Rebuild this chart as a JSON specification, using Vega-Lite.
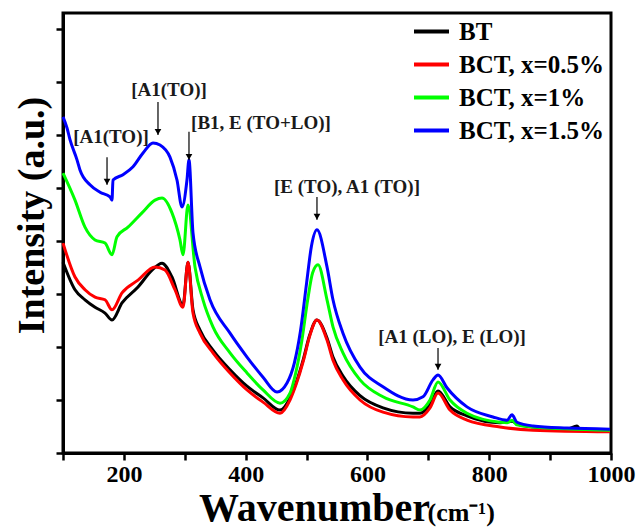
{
  "$schema": "https://vega.github.io/schema/vega-lite/v6.json",
  "width": 548,
  "height": 440,
  "autosize": "none",
  "padding": {"left": 63, "top": 13, "right": 27, "bottom": 78},
  "background": "white",
  "config": {
    "view": {"stroke": "black", "strokeWidth": 3},
    "font": "Liberation Serif"
  },
  "datasets": {
    "spectra": [
      {"series": "BT", "x": 100, "y": 3.6},
      {"series": "BT", "x": 119.7, "y": 3.08},
      {"series": "BT", "x": 136.1, "y": 2.89},
      {"series": "BT", "x": 152.6, "y": 2.75},
      {"series": "BT", "x": 169.0, "y": 2.64},
      {"series": "BT", "x": 180.5, "y": 2.51},
      {"series": "BT", "x": 196.9, "y": 2.83},
      {"series": "BT", "x": 223.2, "y": 3.13},
      {"series": "BT", "x": 246.2, "y": 3.45},
      {"series": "BT", "x": 262.6, "y": 3.58},
      {"series": "BT", "x": 279.0, "y": 3.32},
      {"series": "BT", "x": 297.1, "y": 2.79},
      {"series": "BT", "x": 305.3, "y": 3.6},
      {"series": "BT", "x": 313.5, "y": 2.7},
      {"series": "BT", "x": 325.0, "y": 2.32},
      {"series": "BT", "x": 346.3, "y": 1.94},
      {"series": "BT", "x": 374.3, "y": 1.57},
      {"series": "BT", "x": 402.2, "y": 1.26},
      {"series": "BT", "x": 428.5, "y": 1.04},
      {"series": "BT", "x": 456.4, "y": 0.81},
      {"series": "BT", "x": 472.8, "y": 1.04},
      {"series": "BT", "x": 483, "y": 1.33},
      {"series": "BT", "x": 495, "y": 1.78},
      {"series": "BT", "x": 505, "y": 2.22},
      {"series": "BT", "x": 517, "y": 2.51},
      {"series": "BT", "x": 533.6, "y": 2.17},
      {"series": "BT", "x": 543.4, "y": 1.81},
      {"series": "BT", "x": 559.8, "y": 1.45},
      {"series": "BT", "x": 587.8, "y": 1.08},
      {"series": "BT", "x": 625.5, "y": 0.85},
      {"series": "BT", "x": 674.8, "y": 0.75},
      {"series": "BT", "x": 686.3, "y": 0.75},
      {"series": "BT", "x": 702.7, "y": 0.91},
      {"series": "BT", "x": 715.9, "y": 1.17},
      {"series": "BT", "x": 735.6, "y": 0.87},
      {"series": "BT", "x": 763.5, "y": 0.7},
      {"series": "BT", "x": 817.7, "y": 0.57},
      {"series": "BT", "x": 837.4, "y": 0.6},
      {"series": "BT", "x": 845.6, "y": 0.55},
      {"series": "BT", "x": 871.9, "y": 0.49},
      {"series": "BT", "x": 927.7, "y": 0.45},
      {"series": "BT", "x": 944.1, "y": 0.51},
      {"series": "BT", "x": 949, "y": 0.45},
      {"series": "BT", "x": 998.3, "y": 0.43},

      {"series": "BCT, x=0.5%", "x": 100, "y": 3.96},
      {"series": "BCT, x=0.5%", "x": 119.7, "y": 3.32},
      {"series": "BCT, x=0.5%", "x": 136.1, "y": 3.08},
      {"series": "BCT, x=0.5%", "x": 152.6, "y": 2.94},
      {"series": "BCT, x=0.5%", "x": 169.0, "y": 2.89},
      {"series": "BCT, x=0.5%", "x": 180.5, "y": 2.7},
      {"series": "BCT, x=0.5%", "x": 196.9, "y": 3.02},
      {"series": "BCT, x=0.5%", "x": 223.2, "y": 3.26},
      {"series": "BCT, x=0.5%", "x": 251.1, "y": 3.51},
      {"series": "BCT, x=0.5%", "x": 267.5, "y": 3.45},
      {"series": "BCT, x=0.5%", "x": 283.9, "y": 3.08},
      {"series": "BCT, x=0.5%", "x": 297.1, "y": 2.75},
      {"series": "BCT, x=0.5%", "x": 305.3, "y": 3.6},
      {"series": "BCT, x=0.5%", "x": 313.5, "y": 2.64},
      {"series": "BCT, x=0.5%", "x": 325.0, "y": 2.26},
      {"series": "BCT, x=0.5%", "x": 346.3, "y": 1.89},
      {"series": "BCT, x=0.5%", "x": 374.3, "y": 1.51},
      {"series": "BCT, x=0.5%", "x": 402.2, "y": 1.19},
      {"series": "BCT, x=0.5%", "x": 428.5, "y": 0.96},
      {"series": "BCT, x=0.5%", "x": 456.4, "y": 0.75},
      {"series": "BCT, x=0.5%", "x": 472.8, "y": 1.0},
      {"series": "BCT, x=0.5%", "x": 483, "y": 1.3},
      {"series": "BCT, x=0.5%", "x": 495, "y": 1.75},
      {"series": "BCT, x=0.5%", "x": 505, "y": 2.2},
      {"series": "BCT, x=0.5%", "x": 517, "y": 2.51},
      {"series": "BCT, x=0.5%", "x": 533.6, "y": 2.13},
      {"series": "BCT, x=0.5%", "x": 543.4, "y": 1.75},
      {"series": "BCT, x=0.5%", "x": 559.8, "y": 1.38},
      {"series": "BCT, x=0.5%", "x": 587.8, "y": 1.0},
      {"series": "BCT, x=0.5%", "x": 625.5, "y": 0.77},
      {"series": "BCT, x=0.5%", "x": 674.8, "y": 0.68},
      {"series": "BCT, x=0.5%", "x": 686.3, "y": 0.68},
      {"series": "BCT, x=0.5%", "x": 702.7, "y": 0.85},
      {"series": "BCT, x=0.5%", "x": 715.9, "y": 1.13},
      {"series": "BCT, x=0.5%", "x": 735.6, "y": 0.81},
      {"series": "BCT, x=0.5%", "x": 763.5, "y": 0.62},
      {"series": "BCT, x=0.5%", "x": 817.7, "y": 0.49},
      {"series": "BCT, x=0.5%", "x": 871.9, "y": 0.43},
      {"series": "BCT, x=0.5%", "x": 998.3, "y": 0.4},

      {"series": "BCT, x=1%", "x": 100, "y": 5.28},
      {"series": "BCT, x=1%", "x": 119.7, "y": 4.77},
      {"series": "BCT, x=1%", "x": 136.1, "y": 4.26},
      {"series": "BCT, x=1%", "x": 152.6, "y": 4.02},
      {"series": "BCT, x=1%", "x": 169.0, "y": 3.96},
      {"series": "BCT, x=1%", "x": 180.5, "y": 3.74},
      {"series": "BCT, x=1%", "x": 188.7, "y": 4.08},
      {"series": "BCT, x=1%", "x": 206.7, "y": 4.26},
      {"series": "BCT, x=1%", "x": 229.7, "y": 4.53},
      {"series": "BCT, x=1%", "x": 251.1, "y": 4.77},
      {"series": "BCT, x=1%", "x": 262.6, "y": 4.81},
      {"series": "BCT, x=1%", "x": 279.0, "y": 4.53},
      {"series": "BCT, x=1%", "x": 292.1, "y": 4.02},
      {"series": "BCT, x=1%", "x": 297.1, "y": 3.74},
      {"series": "BCT, x=1%", "x": 305.3, "y": 4.68},
      {"series": "BCT, x=1%", "x": 316.8, "y": 3.51},
      {"series": "BCT, x=1%", "x": 329.9, "y": 2.89},
      {"series": "BCT, x=1%", "x": 346.3, "y": 2.38},
      {"series": "BCT, x=1%", "x": 374.3, "y": 1.89},
      {"series": "BCT, x=1%", "x": 402.2, "y": 1.51},
      {"series": "BCT, x=1%", "x": 428.5, "y": 1.19},
      {"series": "BCT, x=1%", "x": 456.4, "y": 0.94},
      {"series": "BCT, x=1%", "x": 472.8, "y": 1.13},
      {"series": "BCT, x=1%", "x": 482, "y": 1.5},
      {"series": "BCT, x=1%", "x": 492, "y": 2.1},
      {"series": "BCT, x=1%", "x": 502, "y": 2.9},
      {"series": "BCT, x=1%", "x": 510, "y": 3.4},
      {"series": "BCT, x=1%", "x": 518.8, "y": 3.55},
      {"series": "BCT, x=1%", "x": 533.6, "y": 2.89},
      {"series": "BCT, x=1%", "x": 543.4, "y": 2.38},
      {"series": "BCT, x=1%", "x": 559.8, "y": 1.89},
      {"series": "BCT, x=1%", "x": 587.8, "y": 1.38},
      {"series": "BCT, x=1%", "x": 625.5, "y": 1.06},
      {"series": "BCT, x=1%", "x": 674.8, "y": 0.87},
      {"series": "BCT, x=1%", "x": 686.3, "y": 0.81},
      {"series": "BCT, x=1%", "x": 702.7, "y": 1.0},
      {"series": "BCT, x=1%", "x": 715.9, "y": 1.34},
      {"series": "BCT, x=1%", "x": 735.6, "y": 1.0},
      {"series": "BCT, x=1%", "x": 763.5, "y": 0.75},
      {"series": "BCT, x=1%", "x": 817.7, "y": 0.58},
      {"series": "BCT, x=1%", "x": 829.2, "y": 0.57},
      {"series": "BCT, x=1%", "x": 837.4, "y": 0.62},
      {"series": "BCT, x=1%", "x": 845.6, "y": 0.53},
      {"series": "BCT, x=1%", "x": 871.9, "y": 0.49},
      {"series": "BCT, x=1%", "x": 998.3, "y": 0.43},

      {"series": "BCT, x=1.5%", "x": 100, "y": 6.34},
      {"series": "BCT, x=1.5%", "x": 106.6, "y": 6.13},
      {"series": "BCT, x=1.5%", "x": 111.5, "y": 5.91},
      {"series": "BCT, x=1.5%", "x": 123.0, "y": 5.53},
      {"series": "BCT, x=1.5%", "x": 127.9, "y": 5.34},
      {"series": "BCT, x=1.5%", "x": 144.3, "y": 5.06},
      {"series": "BCT, x=1.5%", "x": 160.8, "y": 4.92},
      {"series": "BCT, x=1.5%", "x": 177.2, "y": 4.83},
      {"series": "BCT, x=1.5%", "x": 180.5, "y": 4.77},
      {"series": "BCT, x=1.5%", "x": 182.1, "y": 5.15},
      {"series": "BCT, x=1.5%", "x": 198.5, "y": 5.25},
      {"series": "BCT, x=1.5%", "x": 215.0, "y": 5.4},
      {"series": "BCT, x=1.5%", "x": 231.4, "y": 5.66},
      {"series": "BCT, x=1.5%", "x": 247.8, "y": 5.85},
      {"series": "BCT, x=1.5%", "x": 259.3, "y": 5.81},
      {"series": "BCT, x=1.5%", "x": 275.7, "y": 5.58},
      {"series": "BCT, x=1.5%", "x": 287.2, "y": 5.15},
      {"series": "BCT, x=1.5%", "x": 295.4, "y": 4.64},
      {"series": "BCT, x=1.5%", "x": 303.6, "y": 5.15},
      {"series": "BCT, x=1.5%", "x": 306.9, "y": 5.53},
      {"series": "BCT, x=1.5%", "x": 313.5, "y": 4.15},
      {"series": "BCT, x=1.5%", "x": 325.0, "y": 3.51},
      {"series": "BCT, x=1.5%", "x": 341.4, "y": 2.89},
      {"series": "BCT, x=1.5%", "x": 374.3, "y": 2.26},
      {"series": "BCT, x=1.5%", "x": 402.2, "y": 1.81},
      {"series": "BCT, x=1.5%", "x": 428.5, "y": 1.43},
      {"series": "BCT, x=1.5%", "x": 451.5, "y": 1.15},
      {"series": "BCT, x=1.5%", "x": 467.9, "y": 1.32},
      {"series": "BCT, x=1.5%", "x": 480, "y": 1.7},
      {"series": "BCT, x=1.5%", "x": 490, "y": 2.3},
      {"series": "BCT, x=1.5%", "x": 500, "y": 3.2},
      {"series": "BCT, x=1.5%", "x": 508, "y": 3.9},
      {"series": "BCT, x=1.5%", "x": 517.1, "y": 4.21},
      {"series": "BCT, x=1.5%", "x": 533.6, "y": 3.51},
      {"series": "BCT, x=1.5%", "x": 543.4, "y": 2.89},
      {"series": "BCT, x=1.5%", "x": 559.8, "y": 2.26},
      {"series": "BCT, x=1.5%", "x": 587.8, "y": 1.62},
      {"series": "BCT, x=1.5%", "x": 625.5, "y": 1.25},
      {"series": "BCT, x=1.5%", "x": 674.8, "y": 1.0},
      {"series": "BCT, x=1.5%", "x": 691.2, "y": 1.06},
      {"series": "BCT, x=1.5%", "x": 707.6, "y": 1.38},
      {"series": "BCT, x=1.5%", "x": 715.9, "y": 1.47},
      {"series": "BCT, x=1.5%", "x": 730.6, "y": 1.23},
      {"series": "BCT, x=1.5%", "x": 763.5, "y": 0.87},
      {"series": "BCT, x=1.5%", "x": 806.2, "y": 0.68},
      {"series": "BCT, x=1.5%", "x": 829.2, "y": 0.62},
      {"series": "BCT, x=1.5%", "x": 837.4, "y": 0.72},
      {"series": "BCT, x=1.5%", "x": 845.6, "y": 0.58},
      {"series": "BCT, x=1.5%", "x": 871.9, "y": 0.51},
      {"series": "BCT, x=1.5%", "x": 927.7, "y": 0.47},
      {"series": "BCT, x=1.5%", "x": 998.3, "y": 0.45}
    ],
    "labels": [
      {"label": "[A1(TO)]", "x": 178.8, "y": 5.96},
      {"label": "[A1(TO)]", "x": 274.1, "y": 6.85},
      {"label": "[B1, E (TO+LO)]", "x": 425.2, "y": 6.23},
      {"label": "[E (TO), A1 (TO)]", "x": 566.4, "y": 5.02},
      {"label": "[A1 (LO), E (LO)]", "x": 738.9, "y": 2.19}
    ],
    "arrows": [
      {"x": 172.3, "y": 5.58, "y2": 5.06},
      {"x": 256.0, "y": 6.62, "y2": 6.0},
      {"x": 306.9, "y": 6.06, "y2": 5.53},
      {"x": 517.1, "y": 4.83, "y2": 4.4},
      {"x": 715.9, "y": 1.98, "y2": 1.57}
    ]
  },
  "resolve": {"axis": {"x": "independent"}},
  "layer": [
    {
      "data": {"name": "spectra"},
      "mark": {"type": "line", "strokeWidth": 3, "interpolate": "monotone"},
      "encoding": {
        "x": {
          "field": "x", "type": "quantitative",
          "scale": {"domain": [100, 1000], "nice": false, "zero": false},
          "axis": {
            "orient": "bottom",
            "values": [100, 200, 300, 400, 500, 600, 700, 800, 900, 1000],
            "format": "d",
            "labelExpr": "datum.value % 200 == 0 ? datum.label : ''",
            "grid": false,
            "domainColor": "black", "domainWidth": 3,
            "tickColor": "black", "tickWidth": 2.5, "tickSize": 7,
            "labelFont": "Liberation Serif", "labelFontWeight": "bold", "labelFontSize": 24, "labelColor": "black",
            "labelPadding": 2, "labelFlush": false, "labelOverlap": false,
            "title": "Wavenumber",
            "titleFont": "Liberation Serif", "titleFontWeight": "bold", "titleFontSize": 40, "titleColor": "black",
            "titleX": 251, "titleY": 67, "titleBaseline": "alphabetic", "titleAlign": "center"
          }
        },
        "y": {
          "field": "y", "type": "quantitative",
          "scale": {"domain": [0, 8.3], "nice": false},
          "axis": {
            "values": [0, 1, 2, 3, 4, 5, 6, 7, 8],
            "labels": false, "grid": false,
            "domainColor": "black", "domainWidth": 3,
            "tickColor": "black", "tickWidth": 2.5, "tickSize": 7,
            "title": "Intensity (a.u.)",
            "titleFont": "Liberation Serif", "titleFontWeight": "bold", "titleFontSize": 38, "titleColor": "black",
            "titleX": -20, "titleY": 202, "titleBaseline": "alphabetic", "titleAlign": "center", "titleAngle": 270
          }
        },
        "color": {
          "field": "series", "type": "nominal",
          "scale": {
            "domain": ["BT", "BCT, x=0.5%", "BCT, x=1%", "BCT, x=1.5%"],
            "range": ["#000000", "#ff0000", "#00ff00", "#0000ff"]
          },
          "legend": {
            "title": null,
            "orient": "none", "legendX": 349, "legendY": -1,
            "symbolType": "stroke", "symbolSize": 1225, "symbolStrokeWidth": 4,
            "labelFont": "Liberation Serif", "labelFontWeight": "bold", "labelFontSize": 25, "labelColor": "black",
            "labelOffset": 8, "rowPadding": 0, "padding": 0, "labelLimit": 300
          }
        }
      }
    },
    {
      "data": {"name": "arrows"},
      "mark": {"type": "rule", "color": "black", "strokeWidth": 1.2},
      "encoding": {
        "x": {
          "field": "x", "type": "quantitative",
          "axis": {
            "orient": "bottom", "labels": false, "ticks": false, "domain": false, "grid": false,
            "title": "(cm⁻¹)",
            "titleFont": "Liberation Serif", "titleFontWeight": "bold", "titleFontSize": 26, "titleColor": "black",
            "titleX": 364, "titleY": 67, "titleBaseline": "alphabetic", "titleAlign": "left"
          }
        },
        "y": {"field": "y", "type": "quantitative"},
        "y2": {"field": "y2"}
      }
    },
    {
      "data": {"name": "arrows"},
      "mark": {"type": "point", "shape": "triangle-down", "filled": true, "color": "black", "size": 45, "opacity": 1, "yOffset": -3},
      "encoding": {
        "x": {"field": "x", "type": "quantitative", "axis": null},
        "y": {"field": "y2", "type": "quantitative"}
      }
    },
    {
      "data": {"name": "labels"},
      "mark": {"type": "text", "font": "Liberation Serif", "fontWeight": "bold", "fontSize": 19, "color": "#1a1a1a", "baseline": "middle", "align": "center"},
      "encoding": {
        "x": {"field": "x", "type": "quantitative", "axis": null},
        "y": {"field": "y", "type": "quantitative"},
        "text": {"field": "label"}
      }
    }
  ]
}
